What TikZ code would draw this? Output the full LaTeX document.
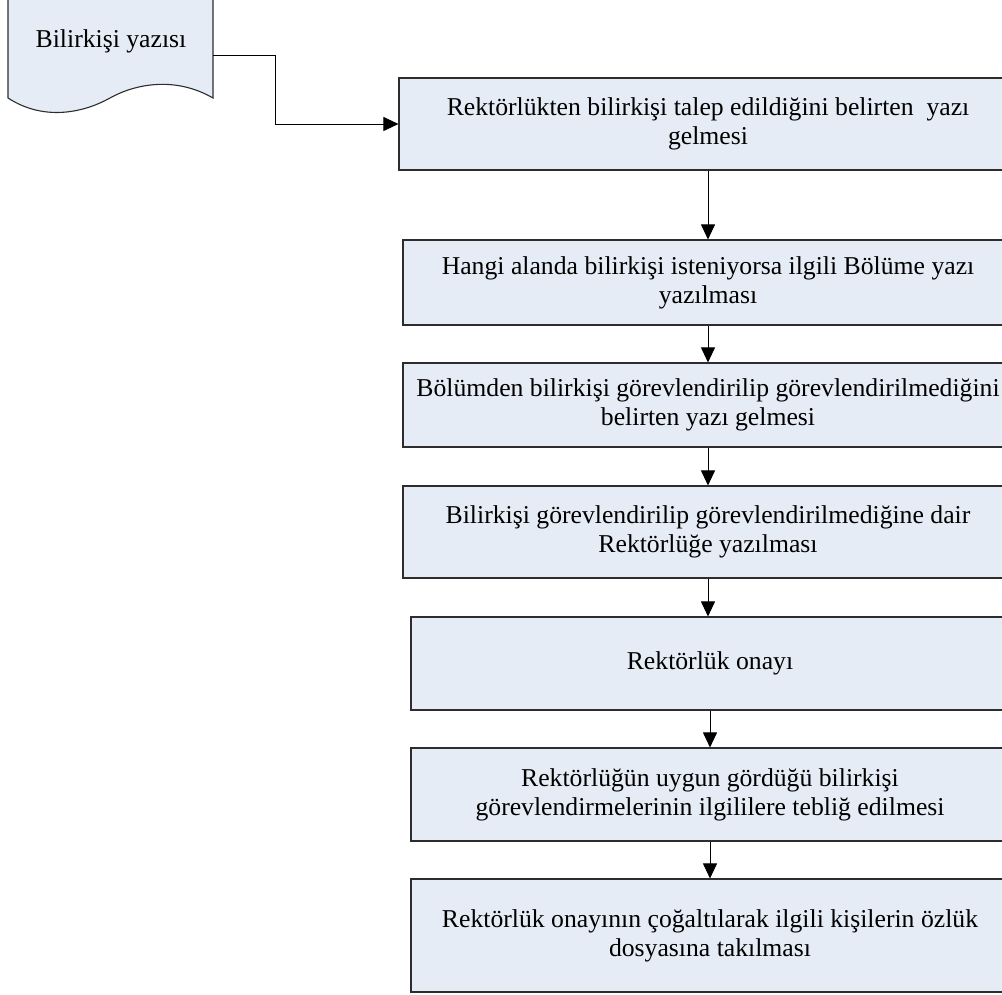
\documentclass[tikz,border=0pt]{standalone}
\usepackage{fontspec}
\setmainfont{Liberation Serif}
\usetikzlibrary{arrows.meta}
\definecolor{boxfill}{RGB}{230,236,246}
\definecolor{boxline}{RGB}{45,45,45}
\begin{document}
\begin{tikzpicture}[x=1pt,y=-1pt,
  txt/.style={font=\fontsize{25.7}{29}\selectfont},
  stepbox/.style={draw=boxline, line width=1.1pt, fill=boxfill, rectangle,
    inner sep=0pt, align=center, txt},
  conn/.style={draw=black, line width=0.9pt},
  arr/.style={conn, -{Triangle[length=15pt,width=14pt]}}]
\path[use as bounding box, clip] (0,0) rectangle (1002,995);
\fill[white] (0,0) rectangle (1002,995);
% document shape
\draw[draw=boxline, line width=1.1pt, fill=boxfill]
  (8,-5) -- (8,98) .. controls (45,122) and (85,112) .. (110,98)
  .. controls (135,84) and (175,76) .. (213,98) -- (213,-5);
\node[txt, inner sep=0pt] (doc) at (111,41) {Bilirkişi yazısı};
\coordinate (docR) at (213,55);
\coordinate (elb) at (275,124);
% steps
\node[stepbox, minimum width=618pt, minimum height=92pt] (b1) at (708,124)
  {Rektörlükten bilirkişi talep edildiğini belirten~ yazı\\gelmesi};
\node[stepbox, minimum width=610pt, minimum height=85pt] (b2) at (708,282.5)
  {Hangi alanda bilirkişi isteniyorsa ilgili Bölüme yazı\\yazılması};
\node[stepbox, minimum width=610pt, minimum height=84pt] (b3) at (708,405)
  {Bölümden bilirkişi görevlendirilip görevlendirilmediğini\\belirten yazı gelmesi};
\node[stepbox, minimum width=610pt, minimum height=92pt] (b4) at (708,532)
  {Bilirkişi görevlendirilip görevlendirilmediğine dair\\Rektörlüğe yazılması};
\node[stepbox, minimum width=598pt, minimum height=93pt] (b5) at (710,663.5)
  {Rektörlük onayı};
\node[stepbox, minimum width=598pt, minimum height=93pt] (b6) at (710,794.5)
  {Rektörlüğün uygun gördüğü bilirkişi\\görevlendirmelerinin ilgililere tebliğ edilmesi};
\node[stepbox, minimum width=598pt, minimum height=113pt] (b7) at (710,935.5)
  {Rektörlük onayının çoğaltılarak ilgili kişilerin özlük\\dosyasına takılması};
% connectors
\draw[arr] (docR) -| (elb) -- (b1.west);
\draw[arr] (b1.south) -- (b2.north);
\draw[arr] (b2.south) -- (b3.north);
\draw[arr] (b3.south) -- (b4.north);
\draw[arr] (b4.south) -- (b4.south |- b5.north);
\draw[arr] (b5.south) -- (b6.north);
\draw[arr] (b6.south) -- (b7.north);
\end{tikzpicture}
\end{document}
